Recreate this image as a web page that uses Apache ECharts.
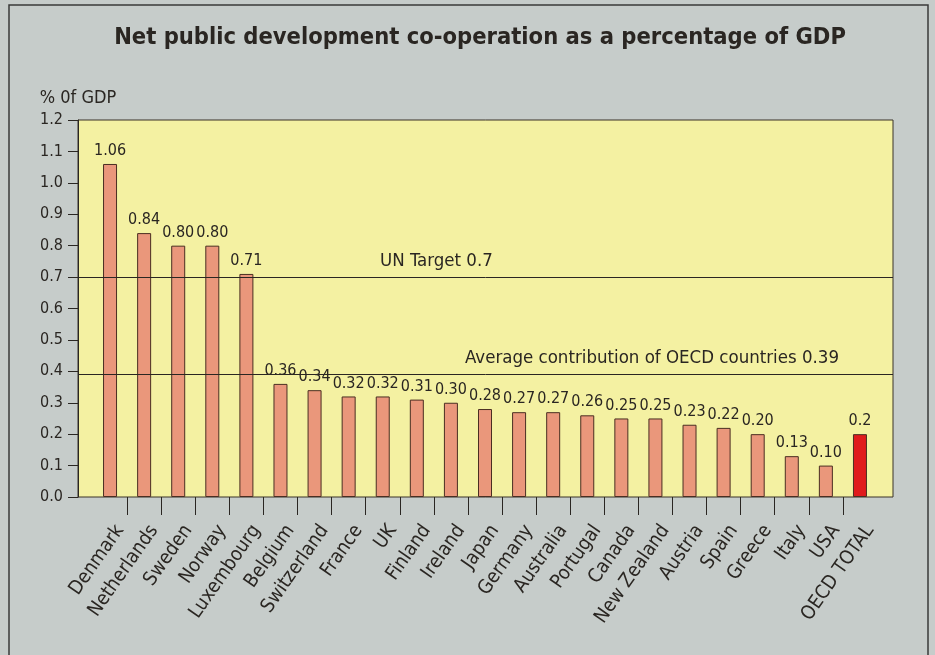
<!DOCTYPE html>
<html>
<head>
<meta charset="utf-8">
<script src="https://cdn.jsdelivr.net/npm/echarts@6/dist/echarts.min.js"></script>
<style>
  html, body { margin: 0; padding: 0; background: #cfd6da; }
  #chart { width: 935px; height: 655px; }
</style>
</head>
<body>
<div id="chart"></div>
<script>
  // 数据
  var countries = ['Denmark', 'Netherlands', 'Sweden', 'Norway', 'Luxembourg', 'Belgium', 'Switzerland',
    'France', 'UK', 'Finland', 'Ireland', 'Japan', 'Germany', 'Australia', 'Portugal', 'Canada',
    'New Zealand', 'Austria', 'Spain', 'Greece', 'Italy', 'USA', 'OECD TOTAL']
  var values = [1.06, 0.84, 0.80, 0.80, 0.71, 0.36, 0.34, 0.32, 0.32, 0.31, 0.30, 0.28, 0.27, 0.27,
    0.26, 0.25, 0.25, 0.23, 0.22, 0.20, 0.13, 0.10, 0.2]
  var valueLabels = ['1.06', '0.84', '0.80', '0.80', '0.71', '0.36', '0.34', '0.32', '0.32', '0.31', '0.30',
    '0.28', '0.27', '0.27', '0.26', '0.25', '0.25', '0.23', '0.22', '0.20', '0.13', '0.10', '0.2']
  var unTarget = 0.7
  var oecdAverage = 0.39
  var tickPositions = [1, 2, 3, 4, 5, 6, 7, 8, 9, 10, 11, 12, 13, 14, 15, 16, 17, 18, 19, 20, 21, 22]

  var font = "'DejaVu Sans Condensed', 'Liberation Sans Narrow', sans-serif"
  var ink = '#2a2622'

  var myChart = echarts.init(document.getElementById('chart'))

  var barData = values.map(function (v, i) {
    return {
      value: v,
      itemStyle: i === values.length - 1 ? { color: '#e01b1c' } : {}
    }
  })

  var option = {
    backgroundColor: '#c6ccca',
    textStyle: { fontFamily: font },
    graphic: [{
      type: 'rect',
      shape: { x: 9, y: 5, width: 919, height: 660 },
      style: { fill: 'transparent', stroke: '#3a3a3a', lineWidth: 1.5 },
      silent: true
    }],
    title: {
      text: 'Net public development co-operation as a percentage of GDP',
      left: 475,
      top: 21,
      textAlign: 'center',
      textStyle: { fontFamily: font, fontWeight: 'bold', fontSize: 23.5, color: ink }
    },
    grid: [{
      left: 78, top: 120, width: 815, height: 377,
      show: true,
      backgroundColor: '#f4f1a2',
      borderColor: '#3a3328',
      borderWidth: 1
    }, {
      left: 93, top: 120, width: 784, height: 377
    }, {
      // 标签位置微调
      left: 103, top: 120, width: 784, height: 377
    }],
    xAxis: [{
      type: 'value', gridIndex: 0, min: 0, max: 1, show: false
    }, {
      type: 'category',
      gridIndex: 1,
      data: countries,
      axisLine: { show: false },
      axisTick: { show: false },
      axisLabel: { show: false }
    }, {
      // 分隔刻度
      type: 'value',
      gridIndex: 1,
      min: 0,
      max: 23,
      position: 'bottom',
      axisLine: { show: false },
      axisLabel: { show: false },
      splitLine: { show: false },
      axisTick: { show: true, length: 18, customValues: tickPositions, lineStyle: { color: ink, width: 1 } }
    }, {
      type: 'category',
      gridIndex: 2,
      data: countries,
      axisLine: { show: false },
      axisTick: { show: false },
      axisLabel: {
        rotate: 55,
        margin: 30,
        interval: 0,
        fontSize: 19.5,
        color: ink,
        fontFamily: font
      }
    }],
    yAxis: [{
      type: 'value',
      gridIndex: 0,
      min: 0,
      max: 1.2,
      interval: 0.1,
      name: '% 0f GDP',
      nameGap: 13,
      nameTextStyle: { align: 'center', fontSize: 18, color: ink, fontFamily: font },
      axisLine: { show: true, lineStyle: { color: ink } },
      axisTick: { show: true, length: 10, lineStyle: { color: ink } },
      splitLine: { show: false },
      axisLabel: {
        margin: 15,
        fontSize: 16,
        color: ink,
        fontFamily: font,
        formatter: function (v) { return v.toFixed(1) }
      }
    }, {
      type: 'value', gridIndex: 1, min: 0, max: 1.2, interval: 0.1, show: false
    }, {
      type: 'value', gridIndex: 2, min: 0, max: 1.2, show: false
    }],
    series: [{
      type: 'line',
      xAxisIndex: 0,
      yAxisIndex: 0,
      data: [],
      silent: true,
      markLine: {
        symbol: 'none',
        silent: true,
        lineStyle: { color: ink, type: 'solid', width: 1 },
        label: {
          position: 'insideStartTop',
          fontSize: 18.5,
          color: ink,
          fontFamily: font
        },
        data: [{
          yAxis: unTarget,
          label: { formatter: 'UN Target 0.7', distance: [302, 6] }
        }, {
          yAxis: oecdAverage,
          label: { formatter: 'Average contribution of OECD countries 0.39', distance: [387, 7] }
        }]
      }
    }, {
      type: 'bar',
      xAxisIndex: 1,
      yAxisIndex: 1,
      barWidth: 14,
      data: barData,
      itemStyle: { color: '#ea977b', borderColor: '#4a2e22', borderWidth: 1 },
      label: {
        show: true,
        position: 'top',
        distance: 5,
        fontSize: 16,
        color: ink,
        fontFamily: font,
        formatter: function (p) { return valueLabels[p.dataIndex] }
      }
    }]
  }

  myChart.setOption(option)
</script>
</body>
</html>
